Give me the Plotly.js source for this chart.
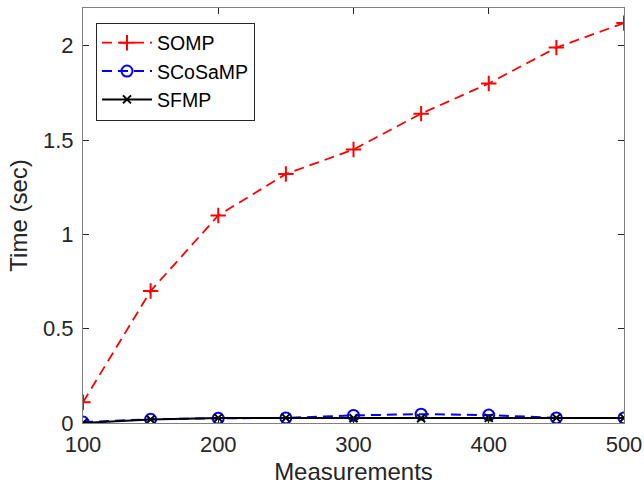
<!DOCTYPE html>
<html><head><meta charset="utf-8">
<script src="https://cdn.plot.ly/plotly-3.0.1.min.js"></script>
<style>body{margin:0;background:#fff}#c{width:644px;height:493px}</style>
</head><body><div id="c"></div>
<script>
const measurements = [100,150,200,250,300,350,400,450,500];
const somp     = [0.11,0.70,1.10,1.32,1.45,1.64,1.80,1.99,2.12];
const scosamp  = [0.005,0.02,0.025,0.027,0.040,0.047,0.042,0.027,0.027];
const sfmp     = [0.0,0.019,0.027,0.027,0.025,0.025,0.027,0.027,0.027];
const xTicks = [100,200,300,400,500];
const yTicks = [0,0.5,1,1.5,2];
const yTickText = ['0','0.5','1','1.5','2'];

const traces = [
 {x:measurements,y:somp,name:'SOMP',mode:'lines+markers',
  line:{color:'#ff0000',width:1.8,dash:'10px,6px'},
  marker:{symbol:'cross-thin',size:11,line:{color:'#ff0000',width:2}}},
 {x:measurements,y:scosamp,name:'SCoSaMP',mode:'lines+markers',
  line:{color:'#0000ff',width:2,dash:'10px,6px'},
  marker:{symbol:'circle-open',size:11,color:'#0000ff',line:{color:'#0000ff',width:2}}},
 {x:measurements,y:sfmp,name:'SFMP',mode:'lines+markers',
  line:{color:'#000000',width:2},
  marker:{symbol:'x-thin',size:8,line:{color:'#000000',width:2}}}
];
const fam = 'Liberation Sans, Arial, Helvetica, sans-serif';
const tickFont = {family:fam,size:22,color:'#262626'};
const titleFont = {family:fam,size:24,color:'#262626'};
const layout = {
  width:644,height:493,
  margin:{l:83,r:20,t:8,b:70},
  paper_bgcolor:'#fff',plot_bgcolor:'#fff',
  font:tickFont,
  showlegend:true,
  legend:{x:0.024,y:0.965,xanchor:'left',yanchor:'top',bgcolor:'#fff',
    bordercolor:'#262626',borderwidth:1,font:{family:fam,size:19.5,color:'#000'},
    tracegroupgap:0,itemwidth:50},
  xaxis:{range:[100,500],tickvals:xTicks,ticktext:xTicks.map(String),
    ticks:'inside',ticklen:6,tickcolor:'#262626',showline:true,linecolor:'#808080',linewidth:1,mirror:'ticks',
    showgrid:false,zeroline:false,tickfont:tickFont,ticklabelstandoff:2,ticklabeloverflow:'allow',
    title:{text:'Measurements',font:titleFont,standoff:6}},
  yaxis:{range:[0,2.2],tickvals:yTicks,ticktext:yTickText,
    ticks:'inside',ticklen:6,tickcolor:'#262626',showline:true,linecolor:'#808080',linewidth:1,mirror:'ticks',
    showgrid:false,zeroline:false,tickfont:tickFont,ticklabelstandoff:4,
    title:{text:'Time (sec)',font:titleFont,standoff:8}}
};
Plotly.newPlot('c',traces,layout,{displayModeBar:false,staticPlot:true});
</script></body></html>
